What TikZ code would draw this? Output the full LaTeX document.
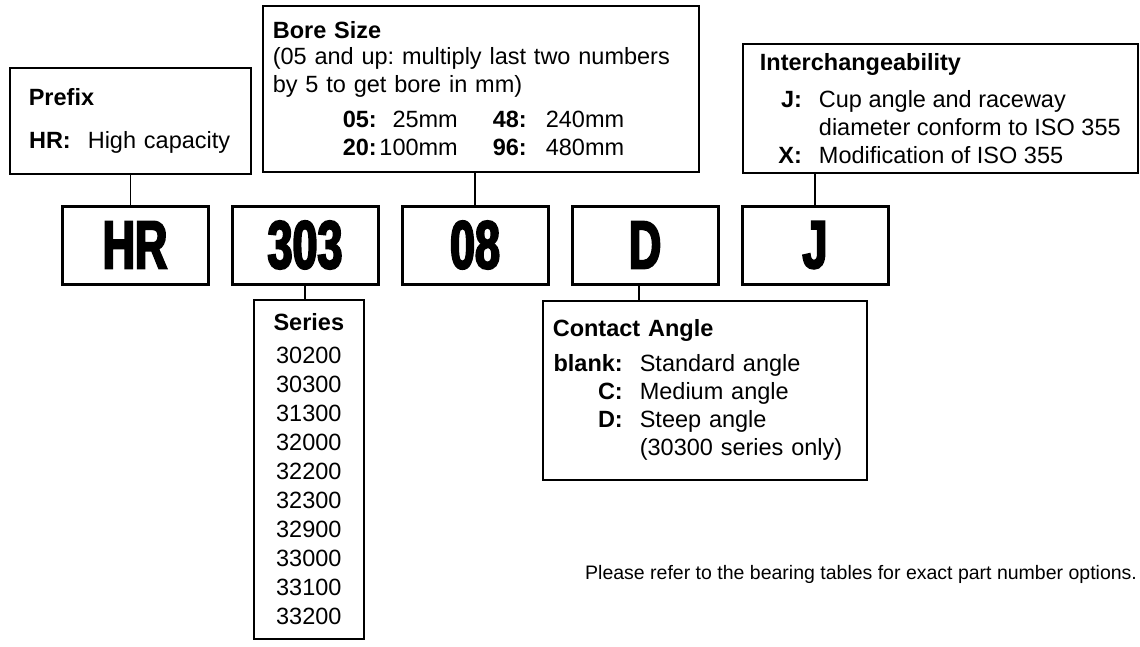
\documentclass[tikz,border=0pt]{standalone}
\usepackage{fontspec}
\setmainfont{Liberation Sans}
\newfontfamily\partfamily[FakeStretch=0.66,FakeBold=3]{Liberation Sans}
\usetikzlibrary{positioning}
\frenchspacing
\newcommand{\boxfont}{\fontsize{23.5pt}{28pt}\selectfont}
\newcommand{\partfont}{\partfamily\bfseries\fontsize{68pt}{68pt}\selectfont}
\newcommand{\optkey}[2]{\makebox[#1][r]{\bfseries #2}\hspace{17pt}}

\begin{document}
\begin{tikzpicture}[
    x=1pt, y=-1pt,
    node distance=21pt,
    partbox/.style={draw, line width=3pt, minimum width=146pt, minimum height=78pt, inner sep=0pt, font=\partfont},
    infobox/.style={draw, line width=1.6pt, anchor=north west, align=left, inner ysep=0pt, font=\boxfont},
    link/.style={line width=1.5pt}
]
\useasboundingbox (0,0) rectangle (1140,646);

% Part number
\node[partbox] (hr) at (135,245) {HR};
\node[partbox, right=of hr] (p303) {303};
\node[partbox, right=of p303] (p08) {08};
\node[partbox, right=of p08] (pD) {D};
\node[partbox, right=of pD] (pJ) {J};

% Descriptions above
\node[infobox, inner xsep=19pt, text width=203pt, minimum height=106pt] (prefix) at (9,67)
    {\textbf{Prefix}\\[15pt]
     \optkey{42pt}{HR:}High capacity};
\node[infobox, inner xsep=10pt, text width=416pt, minimum height=166pt] (bore) at (262,5)
    {\textbf{Bore Size}\\[-2pt]
     (05 and up: multiply last two numbers\\
     by 5 to get bore in mm)\\[7pt]
     \hspace*{70pt}\makebox[115pt][l]{\textbf{05:}\hfill 25mm}\hspace{35pt}\makebox[53pt][l]{\textbf{48:}}240mm\\
     \hspace*{70pt}\makebox[115pt][l]{\textbf{20:}\hfill 100mm}\hspace{35pt}\makebox[53pt][l]{\textbf{96:}}480mm};
\node[infobox, minimum width=395pt, minimum height=129pt] (interch) at (742,43)
    {\textbf{Interchangeability}\\[9pt]
     \optkey{42pt}{J:}Cup angle and raceway\\
     \optkey{42pt}{}diameter conform to ISO 355\\
     \optkey{42pt}{X:}Modification of ISO 355};

% Descriptions below
\node[infobox, align=center, inner xsep=0pt, minimum width=110pt, minimum height=339pt,
      font={\fontsize{23.5pt}{29pt}\selectfont}] (series) at (253,299)
    {\textbf{Series}\\[4pt]
     30200\\ 30300\\ 31300\\ 32000\\ 32200\\ 32300\\ 32900\\ 33000\\ 33100\\ 33200};
\node[infobox, inner xsep=10pt, text width=304pt, minimum height=179pt] (contact) at (542,300)
    {\textbf{Contact Angle}\\[7pt]
     \optkey{70pt}{blank:}Standard angle\\
     \optkey{70pt}{C:}Medium angle\\
     \optkey{70pt}{D:}Steep angle\\
     \optkey{70pt}{}(30300 series only)};

\node[anchor=base west, inner sep=0pt, font={\fontsize{19.5pt}{24pt}\selectfont}] (note) at (585,579)
    {Please refer to the bearing tables for exact part number options.};

% Connectors
\draw[link] (prefix.south) -- (prefix.south |- hr.north);
\draw[link] (p08.north) -- (p08.north |- bore.south);
\draw[link] (pJ.north) -- (pJ.north |- interch.south);
\draw[link] (p303.south) -- (p303.south |- series.north);
\draw[link] ([xshift=-6pt]pD.south) -- ([xshift=-6pt]pD.south |- contact.north);
\end{tikzpicture}
\end{document}
